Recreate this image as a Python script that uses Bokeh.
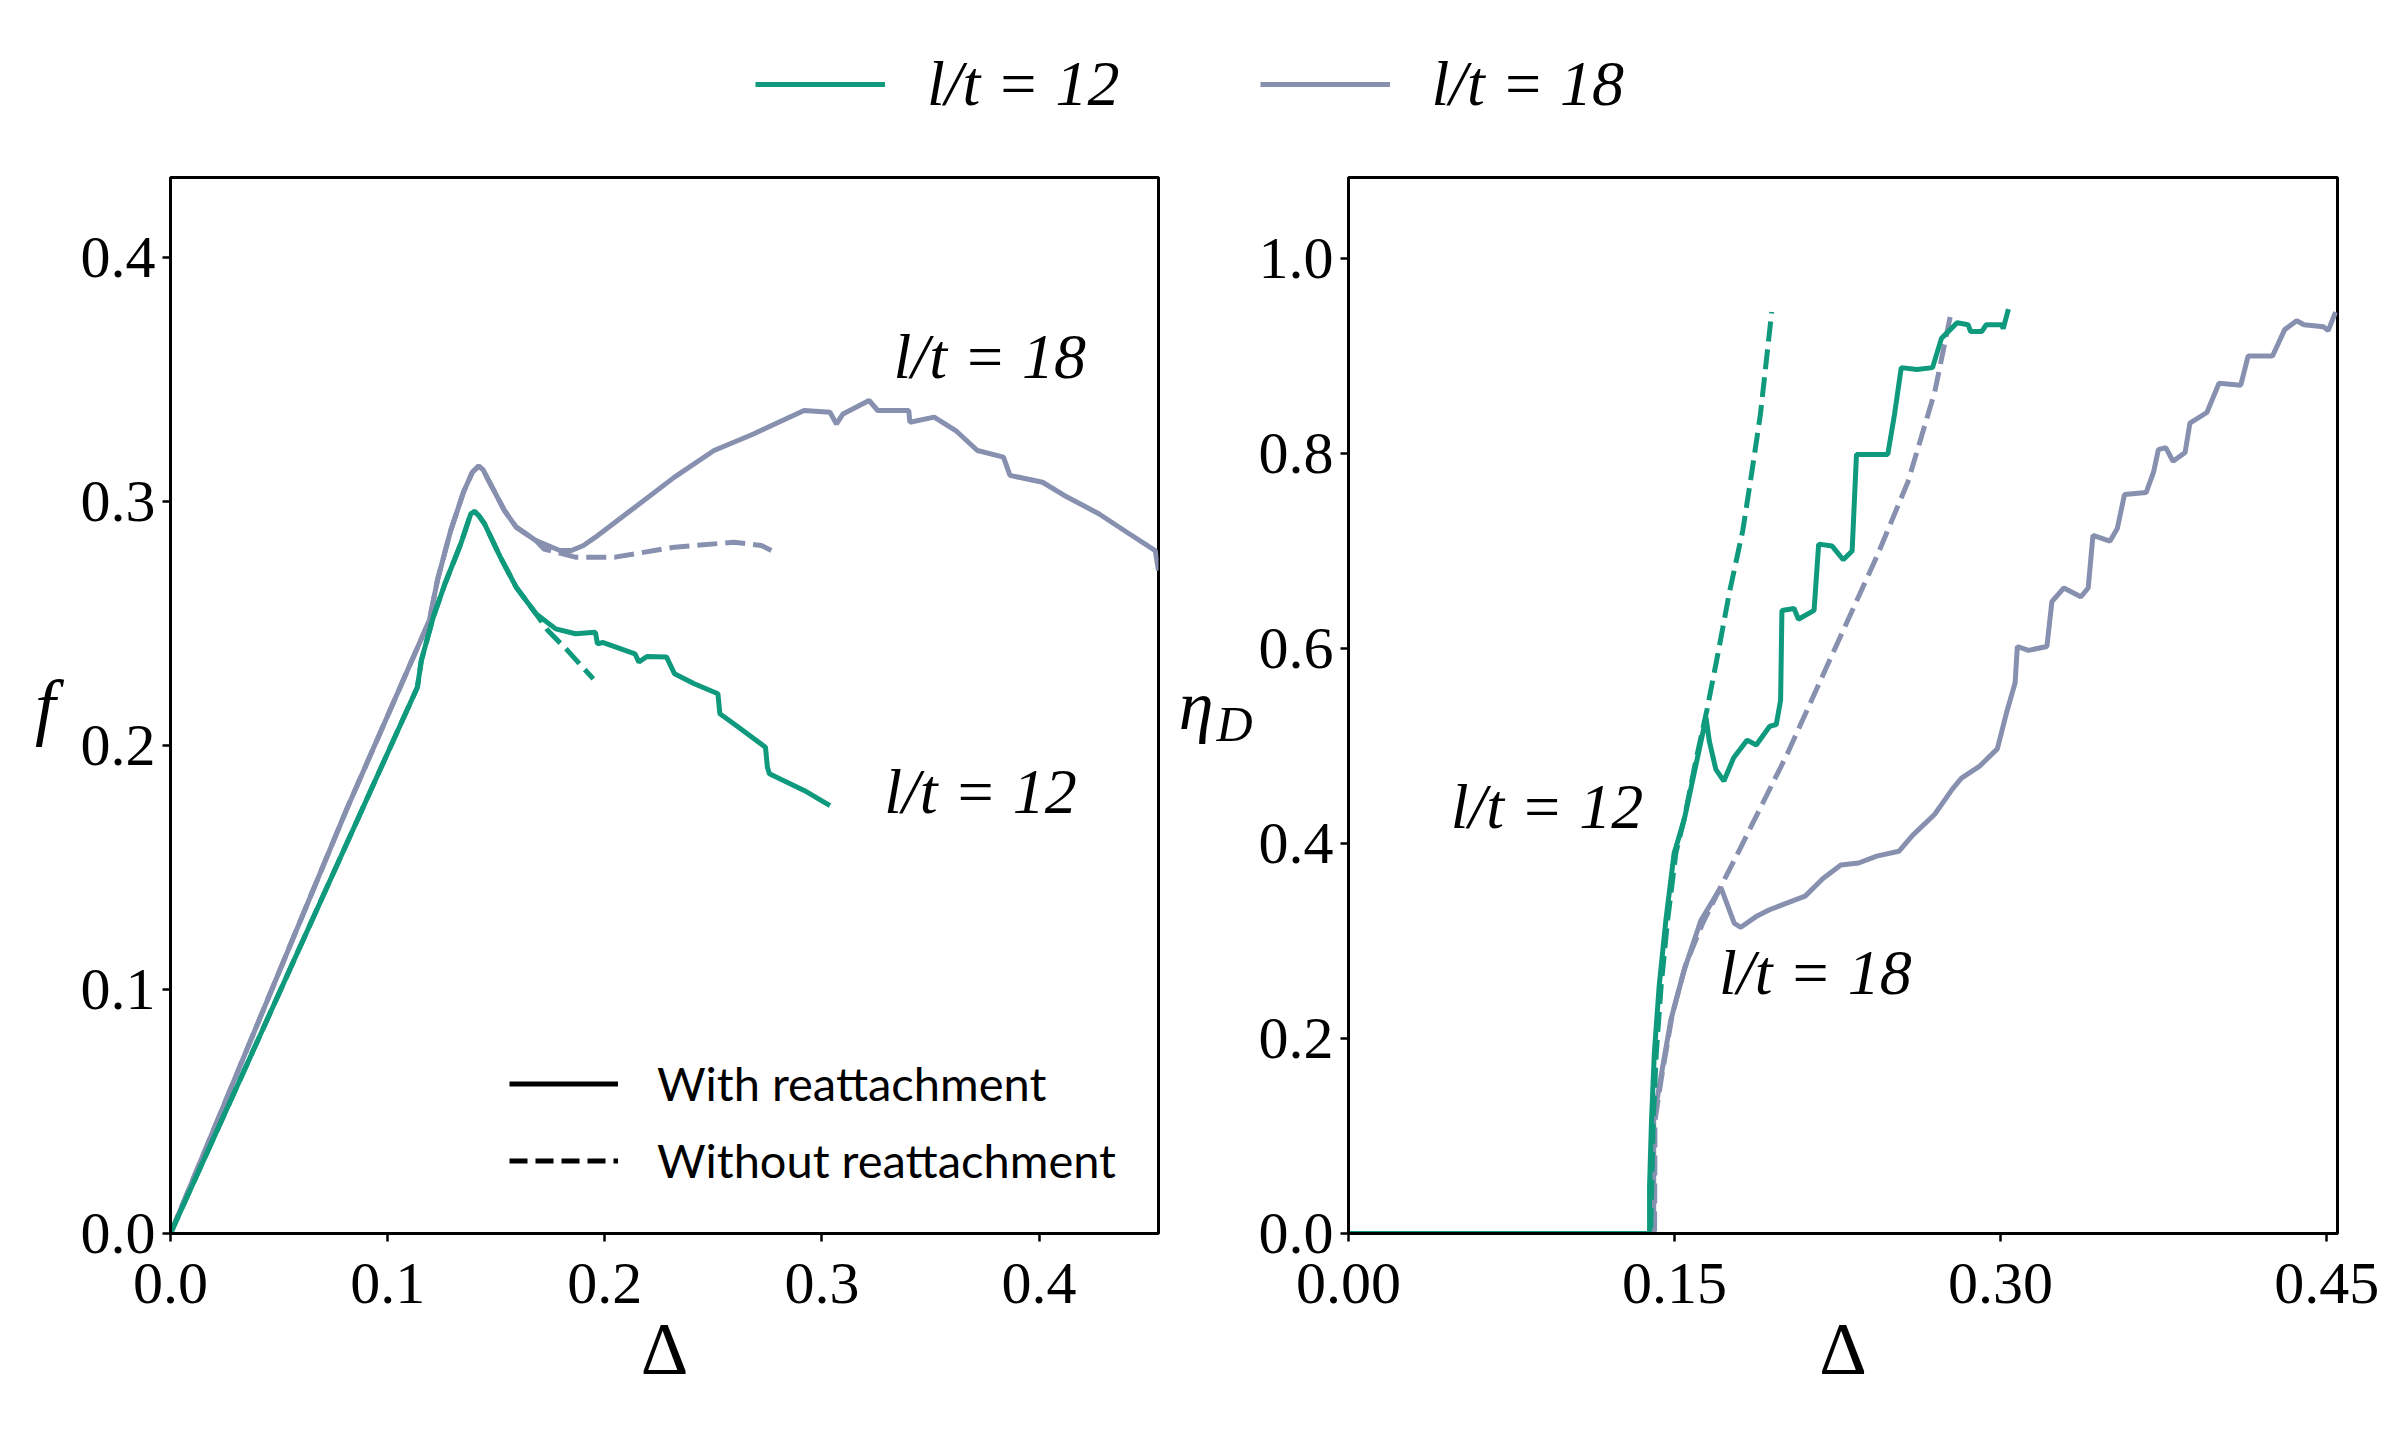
import numpy as np
from bokeh.plotting import figure
from bokeh.layouts import column, row
from bokeh.models import (Range1d, FixedTicker, PrintfTickFormatter, Legend,
                          LegendItem, Label, LinearAxis)
from bokeh.embed import file_html
from bokeh.resources import INLINE

GREEN = "#0f9a7e"
GRAY = "#8890b0"
SERIF = "Liberation Serif"

# ---------------- data: left panel (force f vs displacement Delta) ----------------
L12_WITH_D = [0, 0.1137, 0.1155, 0.1210, 0.1264, 0.1337, 0.1383, 0.1401, 0.1419, 0.1446,
              0.1519, 0.1592, 0.1683, 0.1774, 0.1865, 0.1957, 0.1966, 0.1993, 0.2139,
              0.2157, 0.2194, 0.2284, 0.2321, 0.2412, 0.2521, 0.2530, 0.2594, 0.2740,
              0.2749, 0.2758, 0.2918, 0.3037]
L12_WITH_F = [0, 0.2239, 0.2348, 0.2526, 0.2663, 0.2827, 0.2950, 0.2959, 0.2943, 0.2909,
              0.2772, 0.2649, 0.2540, 0.2478, 0.2458, 0.2464, 0.2417, 0.2422, 0.2376,
              0.2342, 0.2365, 0.2363, 0.2294, 0.2253, 0.2212, 0.2130, 0.2089, 0.1993,
              0.1911, 0.1884, 0.1816, 0.1754]
L12_WITHOUT_D = [0, 0.1137, 0.1155, 0.1210, 0.1264, 0.1337, 0.1383, 0.1401, 0.1419, 0.1446,
                 0.1519, 0.1592, 0.1683, 0.1738, 0.1829, 0.1947]
L12_WITHOUT_F = [0, 0.2239, 0.2348, 0.2526, 0.2663, 0.2827, 0.2950, 0.2959, 0.2943, 0.2909,
                 0.2772, 0.2649, 0.2540, 0.2471, 0.2389, 0.2273]
L18_WITH_D = [0, 0.0809, 0.1192, 0.1230, 0.1290, 0.1350, 0.1390, 0.1419, 0.1440, 0.1465,
              0.1538, 0.1592, 0.1683, 0.1793, 0.1847, 0.1902, 0.1957, 0.2139, 0.2321,
              0.2503, 0.2685, 0.2818, 0.2918, 0.3037, 0.3067, 0.3097, 0.3217, 0.3257,
              0.3400, 0.3405, 0.3517, 0.3616, 0.3716, 0.3836, 0.3866, 0.4016, 0.4116,
              0.4275, 0.4415, 0.4535, 0.4550]
L18_WITH_F = [0, 0.1734, 0.2512, 0.2680, 0.2880, 0.3040, 0.3120, 0.3145, 0.3130, 0.3086,
              0.2963, 0.2895, 0.2840, 0.2799, 0.2799, 0.2820, 0.2854, 0.2977, 0.3100,
              0.3209, 0.3277, 0.3332, 0.3373, 0.3366, 0.3318, 0.3359, 0.3414, 0.3373,
              0.3373, 0.3325, 0.3346, 0.3291, 0.3209, 0.3182, 0.3107, 0.3079, 0.3025,
              0.2950, 0.2868, 0.2799, 0.2717]
L18_WITHOUT_D = [0, 0.0809, 0.1192, 0.1230, 0.1290, 0.1350, 0.1390, 0.1419, 0.1440, 0.1465,
                 0.1538, 0.1592, 0.1683, 0.1720, 0.1865, 0.2047, 0.2321, 0.2594, 0.2721,
                 0.2767]
L18_WITHOUT_F = [0, 0.1734, 0.2512, 0.2680, 0.2880, 0.3040, 0.3120, 0.3145, 0.3130, 0.3086,
                 0.2963, 0.2895, 0.2840, 0.2805, 0.2772, 0.2772, 0.2813, 0.2833, 0.2820,
                 0.2799]

# ---------------- data: right panel (eta_D vs Delta) ----------------
R12_WITH_D = [0, 0.1385, 0.1385, 0.1394, 0.1407, 0.1429, 0.1460, 0.1498, 0.1544, 0.1645,
              0.1660, 0.1690, 0.1727, 0.1772, 0.1834, 0.1876, 0.1937, 0.1968, 0.1988,
              0.1994, 0.2050, 0.2070, 0.2142, 0.2163, 0.2225, 0.2276, 0.2317, 0.2337,
              0.2481, 0.2512, 0.2543, 0.2615, 0.2687, 0.2728, 0.2800, 0.2851, 0.2862,
              0.2913, 0.2934, 0.3005, 0.3012, 0.3036]
R12_WITH_E = [0, 0, 0.048, 0.116, 0.185, 0.253, 0.321, 0.390, 0.424, 0.529,
              0.505, 0.476, 0.464, 0.488, 0.506, 0.501, 0.520, 0.522, 0.547,
              0.639, 0.641, 0.630, 0.639, 0.707, 0.705, 0.691, 0.700, 0.799,
              0.799, 0.840, 0.888, 0.886, 0.888, 0.918, 0.934, 0.932, 0.925,
              0.925, 0.932, 0.932, 0.928, 0.948]
R12_WITHOUT_D = [0, 0.1390, 0.1395, 0.1402, 0.1416, 0.1438, 0.1468, 0.1506, 0.1547, 0.1600,
                 0.1650, 0.1700, 0.1752, 0.1814, 0.1855, 0.1895, 0.1947]
R12_WITHOUT_E = [0, 0, 0.048, 0.116, 0.185, 0.253, 0.321, 0.390, 0.428, 0.487,
                 0.538, 0.595, 0.657, 0.721, 0.780, 0.840, 0.945]
R18_WITH_D = [0, 0.1404, 0.1404, 0.1429, 0.1483, 0.1544, 0.1621, 0.1713, 0.1775, 0.1805,
              0.1875, 0.1937, 0.2019, 0.2101, 0.2183, 0.2265, 0.2347, 0.2430, 0.2532,
              0.2594, 0.2697, 0.2779, 0.2820, 0.2902, 0.2985, 0.3026, 0.3067, 0.3077,
              0.3128, 0.3213, 0.3236, 0.3291, 0.3369, 0.3403, 0.3425, 0.3503, 0.3537,
              0.3570, 0.3670, 0.3704, 0.3726, 0.3760, 0.3793, 0.3849, 0.3871, 0.3949,
              0.4005, 0.4105, 0.4139, 0.4251, 0.4307, 0.4362, 0.4396, 0.4485, 0.4507,
              0.4541]
R18_WITH_E = [0, 0, 0.116, 0.150, 0.219, 0.270, 0.321, 0.355, 0.318, 0.314,
              0.325, 0.332, 0.339, 0.346, 0.364, 0.378, 0.380, 0.387, 0.392,
              0.408, 0.430, 0.456, 0.467, 0.479, 0.497, 0.533, 0.565, 0.602,
              0.598, 0.602, 0.648, 0.662, 0.653, 0.662, 0.716, 0.710, 0.723,
              0.758, 0.760, 0.781, 0.804, 0.806, 0.792, 0.801, 0.831, 0.842,
              0.872, 0.870, 0.900, 0.900, 0.927, 0.936, 0.932, 0.930, 0.926,
              0.945]
R18_WITHOUT_D = [0, 0.1408, 0.1410, 0.1440, 0.1490, 0.1550, 0.1629, 0.1711, 0.1773, 0.1896,
                 0.2019, 0.2224, 0.2430, 0.2574, 0.2697, 0.2769]
R18_WITHOUT_E = [0, 0, 0.116, 0.160, 0.225, 0.275, 0.318, 0.355, 0.382, 0.437,
                 0.492, 0.593, 0.694, 0.771, 0.863, 0.941]

LEFT_XTICKS = [0.0, 0.1, 0.2, 0.3, 0.4]
LEFT_YTICKS = [0.0, 0.1, 0.2, 0.3, 0.4]
RIGHT_XTICKS = [0.0, 0.15, 0.30, 0.45]
RIGHT_YTICKS = [0.0, 0.2, 0.4, 0.6, 0.8, 1.0]
SERIES_LABELS = ["l/t = 12", "l/t = 18"]
STYLE_LABELS = ["With reattachment", "Without reattachment"]

LW = 5
DASH = "20 8"
NOPOINT = [np.nan]  # legend proxies: nothing drawn in the data area


def style(p):
    p.xgrid.visible = False
    p.ygrid.visible = False
    p.outline_line_color = "black"
    p.outline_line_width = 3
    p.outline_line_alpha = 1
    p.background_fill_color = "white"
    p.border_fill_color = "white"
    for ax in (p.xaxis[0], p.yaxis[0]):
        ax.axis_line_color = "black"
        ax.axis_line_width = 3
        ax.major_tick_line_color = "black"
        ax.major_tick_line_width = 2.5
        ax.major_tick_in = 0
        ax.major_tick_out = 8
        ax.minor_tick_line_color = None
        ax.major_label_text_font = SERIF
        ax.major_label_text_font_size = "60px"
        ax.major_label_text_color = "black"
        ax.major_label_standoff = 7
        ax.axis_label_text_font = SERIF
        ax.axis_label_text_color = "black"
        ax.axis_label_text_font_style = "normal"
    p.xaxis[0].major_label_standoff = 22


# ---------------- top legend figure ----------------
top = figure(width=2392, height=148, x_range=Range1d(0, 1), y_range=Range1d(0, 1),
             toolbar_location=None, output_backend="svg", min_border=0)
top.axis.visible = False
top.xgrid.visible = False
top.ygrid.visible = False
top.outline_line_color = None
lg1 = top.line(x=NOPOINT, y=NOPOINT, line_color=GREEN, line_width=LW)
lg2 = top.line(x=NOPOINT, y=NOPOINT, line_color=GRAY, line_width=LW)
top_legend = Legend(items=[LegendItem(label=SERIES_LABELS[0], renderers=[lg1]),
                           LegendItem(label=SERIES_LABELS[1], renderers=[lg2])],
                    orientation="horizontal", location=(745, 17),
                    glyph_width=130, glyph_height=40, label_standoff=42, spacing=140,
                    label_text_font=SERIF, label_text_font_style="italic",
                    label_text_font_size="64px", label_text_color="black",
                    border_line_alpha=0, background_fill_alpha=0, padding=10)
top.add_layout(top_legend)

# ---------------- left panel ----------------
left = figure(width=1162, height=1292, x_range=Range1d(0, 0.455), y_range=Range1d(0, 0.4328),
              toolbar_location=None, output_backend="svg",
              min_border_left=170, min_border_right=4, min_border_top=29, min_border_bottom=207)
style(left)
left.xaxis.ticker = FixedTicker(ticks=LEFT_XTICKS)
left.yaxis.ticker = FixedTicker(ticks=LEFT_YTICKS)
left.xaxis.formatter = PrintfTickFormatter(format="%.1f")
left.yaxis.formatter = PrintfTickFormatter(format="%.1f")
left.xaxis.axis_label = "Δ"
left.xaxis.axis_label_text_font_size = "74px"
left.xaxis.axis_label_standoff = 2
left.yaxis.axis_label = "f"
left.yaxis.axis_label_orientation = "horizontal"
left.yaxis.axis_label_text_font_style = "italic"
left.yaxis.axis_label_text_font_size = "74px"
left.yaxis.axis_label_standoff = 22

left.line(L18_WITHOUT_D, L18_WITHOUT_F, line_color=GRAY, line_width=LW, line_dash=DASH)
left.line(L18_WITH_D, L18_WITH_F, line_color=GRAY, line_width=LW)
left.line(L12_WITHOUT_D, L12_WITHOUT_F, line_color=GREEN, line_width=LW, line_dash=DASH)
left.line(L12_WITH_D, L12_WITH_F, line_color=GREEN, line_width=LW)

rb1 = left.line(x=NOPOINT, y=NOPOINT, line_color="black", line_width=LW)
rb2 = left.line(x=NOPOINT, y=NOPOINT, line_color="black", line_width=LW, line_dash="18 8")
style_legend = Legend(items=[LegendItem(label=STYLE_LABELS[0], renderers=[rb1]),
                             LegendItem(label=STYLE_LABELS[1], renderers=[rb2])],
                      location=(329, 35), glyph_width=109, glyph_height=55,
                      label_height=55, label_standoff=39, spacing=21,
                      label_text_font="Lato", label_text_font_size="47px",
                      label_text_color="black", border_line_alpha=0,
                      background_fill_alpha=0, padding=10)
left.add_layout(style_legend)

for txt, x, y in [(SERIES_LABELS[1], 0.3330, 0.3596), (SERIES_LABELS[0], 0.3287, 0.1812)]:
    left.add_layout(Label(x=x, y=y, text=txt, text_font=SERIF, text_font_style="italic",
                          text_font_size="64px", text_color="black",
                          text_baseline="alphabetic", text_align="left"))

# ---------------- right panel ----------------
right = figure(width=1230, height=1292, x_range=Range1d(0, 0.455), y_range=Range1d(0, 1.083),
               toolbar_location=None, output_backend="svg",
               min_border_left=186, min_border_right=55, min_border_top=29, min_border_bottom=207)
style(right)
right.xaxis.ticker = FixedTicker(ticks=RIGHT_XTICKS)
right.yaxis.ticker = FixedTicker(ticks=RIGHT_YTICKS)
right.xaxis.formatter = PrintfTickFormatter(format="%.2f")
right.yaxis.formatter = PrintfTickFormatter(format="%.1f")
right.xaxis.axis_label = "Δ"
right.xaxis.axis_label_text_font_size = "74px"
right.xaxis.axis_label_standoff = 2
# subscript "D" of eta_D sits on the main axis (pushed down by an empty first line),
# "η" on an outer bare axis
right.yaxis.axis_label = "\nD"
right.yaxis.axis_label_orientation = "horizontal"
right.yaxis.axis_label_text_font_style = "italic"
right.yaxis.axis_label_text_font_size = "50px"
right.yaxis.axis_label_text_line_height = 0.65
right.yaxis.axis_label_standoff = 3
eta_axis = LinearAxis(axis_label="η", ticker=FixedTicker(ticks=[]),
                      axis_line_color=None, major_tick_line_color=None,
                      minor_tick_line_color=None, major_tick_out=0, major_tick_in=0,
                      major_label_text_font_size="1px", major_label_standoff=0,
                      axis_label_standoff=0, axis_label_orientation="horizontal",
                      axis_label_text_font=SERIF, axis_label_text_font_style="italic",
                      axis_label_text_font_size="70px", axis_label_text_color="black")
right.add_layout(eta_axis, "left")

right.line(R18_WITHOUT_D, R18_WITHOUT_E, line_color=GRAY, line_width=LW, line_dash=DASH)
right.line(R18_WITH_D, R18_WITH_E, line_color=GRAY, line_width=LW)
right.line(R12_WITHOUT_D, R12_WITHOUT_E, line_color=GREEN, line_width=LW, line_dash=DASH)
right.line(R12_WITH_D, R12_WITH_E, line_color=GREEN, line_width=LW)

for txt, x, y in [(SERIES_LABELS[0], 0.0470, 0.4377), (SERIES_LABELS[1], 0.1705, 0.2680)]:
    right.add_layout(Label(x=x, y=y, text=txt, text_font=SERIF, text_font_style="italic",
                           text_font_size="64px", text_color="black",
                           text_baseline="alphabetic", text_align="left"))

layout = column(top, row(left, right))
open("out.html", "w").write(file_html(layout, INLINE))
